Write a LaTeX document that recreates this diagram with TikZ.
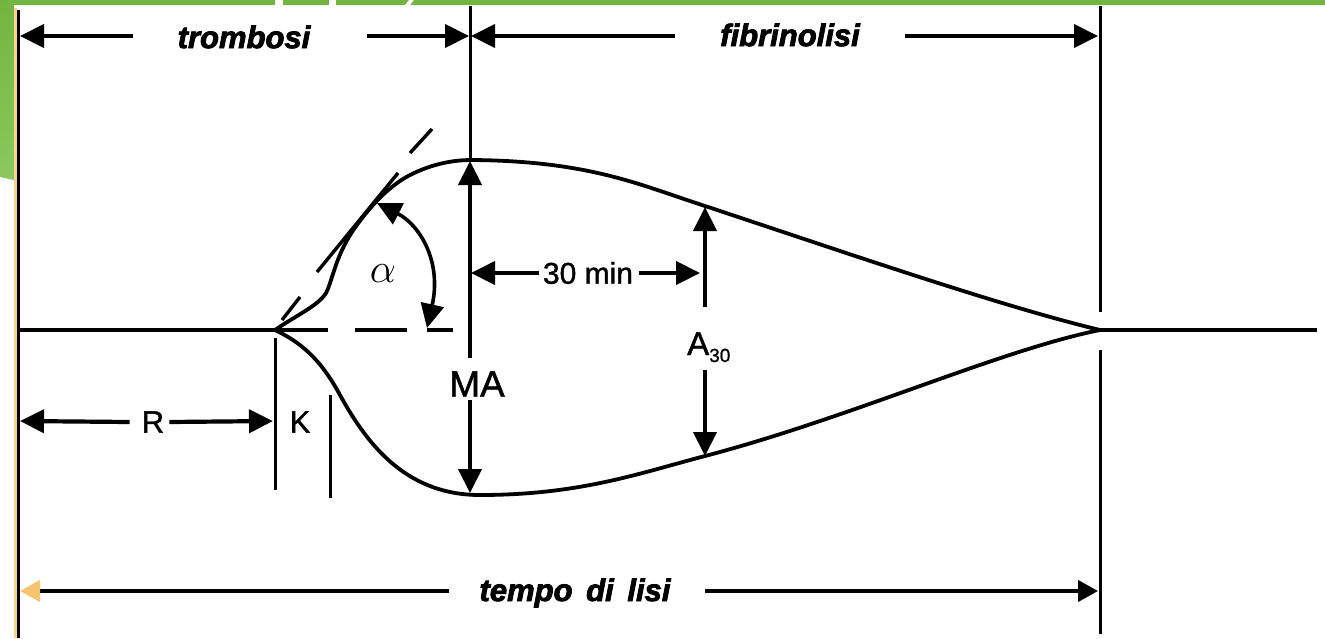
\documentclass[tikz,border=0pt]{standalone}
\usepackage{fontspec}
\setmainfont{Liberation Sans}
\usetikzlibrary{arrows.meta}
\definecolor{grn}{RGB}{116,180,64}
\definecolor{grnlt}{RGB}{140,200,92}
\definecolor{tanline}{RGB}{246,214,140}
\definecolor{orng}{RGB}{246,196,110}
\begin{document}
\begin{tikzpicture}[x=1pt,y=-1pt,
  ln/.style={line width=4.2pt, black},
  vln/.style={line width=3pt, black},
  crv/.style={line width=3.8pt, line join=round, line cap=round},
  dsh/.style={line width=3.4pt},
  tip/.style={-{Triangle[length=24pt,width=23pt]}},
  tips/.style={{Triangle[length=24pt,width=23pt]}-{Triangle[length=24pt,width=23pt]}},
  smtip/.style={-{Triangle[length=20pt,width=21pt]}},
  lbl/.style={font=\fontsize{31}{31}\selectfont\addfontfeature{FakeBold=1.2}, inner sep=0pt},
  hdr/.style={font=\fontsize{31}{31}\selectfont\bfseries\itshape\addfontfeature{FakeBold=2.6}, inner sep=0pt},
]
\useasboundingbox (0,0) rectangle (1325,638);
\fill[white] (0,0) rectangle (1325,638);
% green decoration
\fill[grn] (0,0) rectangle (1325,5);
\fill[white] (275,0) rectangle (283,5);
\fill[white] (329,0) rectangle (336,5);
\fill[white] (409,0) -- (414,0) -- (410,5) -- (405,5) -- cycle;
\shade[top color=grn, bottom color=grnlt] (0,0) -- (14,0) -- (14,180) -- (0,177) -- cycle;
% guide lines
\draw[tanline, line width=3pt] (15,8) -- (15,638);
\coordinate (L0) at (18.5,10);
\coordinate (L1) at (18.5,638);
\draw[vln] (L0) -- (L1);
\coordinate (R0) at (1100,6);
\coordinate (R1) at (1100,312);
\coordinate (R2) at (1100,350);
\coordinate (R3) at (1100,634);
\draw[vln] (R0) -- (R1);
\draw[vln] (R2) -- (R3);
% axis
\coordinate (O) at (275,330);
\coordinate (E) at (1100,330);
\coordinate (AxL) at (18.5,330);
\coordinate (AxR) at (1317,330);
\draw[ln] (AxL) -- (O) -- (328,330);
\draw[ln] (E) -- (AxR);
\draw[dsh] (355,330) -- (407,330);
\draw[dsh] (427,330) -- (453,330);
% tangent
\draw[dsh] (282,320) -- (300,297);
\draw[dsh] (317,272) -- (398,173);
\draw[dsh] (410,153) -- (432,129);
% curves
\coordinate (Top) at (472,160);
\coordinate (Bot) at (480,495);
\draw[crv] (O) .. controls (295,316) and (318,306) .. (326,293)
  .. controls (332,282) and (335,258) .. (352,232)
  .. controls (365,213) and (385,188) .. (410,175)
  .. controls (430,165) and (450,160) .. (Top)
  .. controls (590,161) and (640,185) .. (705,206)
  .. controls (850,254) and (1000,306) .. (E);
\draw[crv] (O) .. controls (300,342) and (320,358) .. (340,395)
  .. controls (370,450) and (410,495) .. (Bot)
  .. controls (580,495) and (640,473) .. (705,456)
  .. controls (850,418) and (1000,350) .. (E);
% MA
\coordinate (MAtop) at (470,6);
\coordinate (MAup) at (470,161);
\coordinate (MAdn) at (470,493);
\draw[vln] (MAtop) -- (MAup);
\node[font=\fontsize{37}{37}\selectfont\addfontfeature{FakeBold=1.2}, inner sep=0pt] (MA) at (477,384) {MA};
\coordinate (MAa) at (470,358);
\coordinate (MAb) at (470,400);
\draw[ln,tip] (MAa) -- (MAup);
\draw[ln,tip] (MAb) -- (MAdn);
% A30
\node[inner sep=0pt, anchor=base west] (A30) at (687,355) {\fontsize{33}{33}\selectfont\addfontfeature{FakeBold=1.2}A\raisebox{-7pt}{\fontsize{19}{19}\selectfont\addfontfeature{FakeBold=1} 30}};
\coordinate (Aup) at (705,207);
\coordinate (Adn) at (705,456);
\coordinate (Aa) at (705,307);
\coordinate (Ab) at (705,370);
\draw[ln,tip] (Aa) -- (Aup);
\draw[ln,tip] (Ab) -- (Adn);
% 30 min
\node[lbl, font=\fontsize{30}{30}\selectfont\addfontfeature{FakeBold=1.2}] (min) at (588,273) {30 min};
\coordinate (mL) at (471,273);
\coordinate (mR) at (700,273);
\draw[ln,tip] ([xshift=-4pt]min.west) -- (mL);
\draw[ln,tip] ([xshift=6pt]min.east) -- (mR);
% alpha
\node[scale=2] (alpha) at (383,274) {\huge$\alpha$};
\coordinate (al1) at (377,203);
\coordinate (al2) at (427,328);
\draw[line width=3.6pt, tips] (al1) .. controls (420,225) and (442,262) .. (al2);
% R and K
\node[lbl] (R) at (153,422) {R};
\node[lbl] (K) at (300,422) {K};
\coordinate (Rl) at (20,421);
\coordinate (Rr) at (273,421);
\draw[ln,tip] ([xshift=-12pt]R.west) -- (Rl);
\draw[ln,tip] ([xshift=5pt]R.east) -- (Rr);
\coordinate (K1a) at (275,338);
\coordinate (K1b) at (275,490);
\coordinate (K2a) at (330,395);
\coordinate (K2b) at (330,498);
\draw[vln] (K1a) -- (K1b);
\draw[vln] (K2a) -- (K2b);
% header arrows
\node[hdr] (trom) at (244,37) {trombosi};
\node[hdr] (fibr) at (790,35) {fibrinolisi};
\coordinate (TL) at (20,36);
\coordinate (TMl) at (469,36);
\coordinate (TMr) at (471,36);
\coordinate (TR) at (1098,36);
\draw[ln,tip] (133,36) -- (TL);
\draw[ln,tip] (367,36) -- (TMl);
\draw[ln,tip] (675,36) -- (TMr);
\draw[ln,tip] (905,36) -- (TR);
% bottom arrow
\node[hdr, anchor=base] (tempo) at (575,601) {tempo\hspace{0.44em}di\hspace{0.44em}lisi};
\coordinate (BL) at (20,591);
\coordinate (BR) at (1098,591);
\draw[ln,-{Triangle[length=20pt,width=21pt,color=orng]}] (449,591) -- (BL);
\draw[ln,smtip] (705,591) -- (BR);
\end{tikzpicture}
\end{document}
